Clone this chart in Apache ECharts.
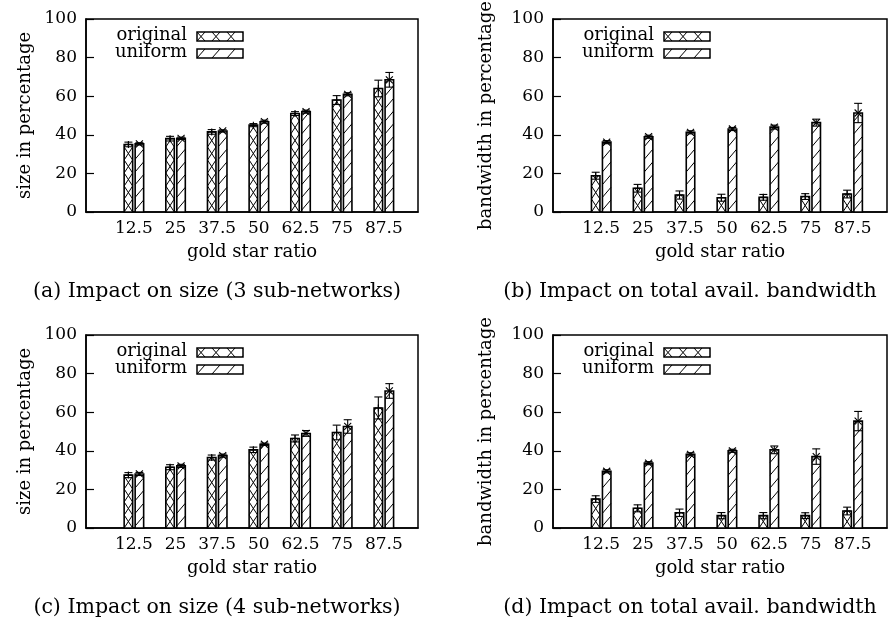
<!DOCTYPE html>
<html><head><meta charset="utf-8">
<script src="https://cdn.jsdelivr.net/npm/echarts@6/dist/echarts.min.js"></script>
<style>html,body{margin:0;padding:0;background:#fff}#c{width:888px;height:617px}</style>
</head><body><div id="c"></div>
<script>
// ---------- data ----------
const categories = ['12.5','25','37.5','50','62.5','75','87.5'];
const yTickValues = [0,20,40,60,80,100];
const seriesNames = ['original','uniform'];

// (a) size, 3 sub-networks
const size3Orig    = [35.0, 38.0, 41.5, 45.0, 51.0, 58.0, 64.0];
const size3OrigErr = [1.2, 1.2, 1.2, 0.8, 1.0, 2.3, 4.3];
const size3Unif    = [35.3, 38.2, 42.0, 46.8, 52.0, 61.0, 68.5];
const size3UnifErr = [0.6, 0.6, 0.6, 0.8, 0.8, 0.8, 3.8];
// (b) bandwidth, 3 sub-networks
const bw3Orig      = [18.8, 12.3, 8.8, 7.4, 7.6, 8.0, 9.3];
const bw3OrigErr   = [1.8, 2.0, 2.1, 1.8, 1.5, 1.5, 2.0];
const bw3Unif      = [36.2, 39.0, 41.3, 43.0, 44.0, 46.3, 51.3];
const bw3UnifErr   = [0.8, 0.8, 0.8, 0.8, 1.0, 1.8, 5.0];
// (c) size, 4 sub-networks
const size4Orig    = [27.4, 31.5, 36.5, 40.5, 46.4, 49.5, 62.2];
const size4OrigErr = [1.3, 1.3, 1.3, 1.4, 1.8, 3.8, 5.7];
const size4Unif    = [28.0, 32.2, 37.5, 43.4, 49.0, 52.6, 71.0];
const size4UnifErr = [0.8, 0.8, 0.8, 0.6, 1.5, 3.5, 3.8];
// (d) bandwidth, 4 sub-networks
const bw4Orig      = [15.0, 10.2, 7.9, 6.4, 6.4, 6.4, 8.8];
const bw4OrigErr   = [1.7, 1.8, 1.9, 1.6, 1.6, 1.5, 2.0];
const bw4Unif      = [29.4, 33.6, 38.2, 40.0, 40.5, 37.0, 55.4];
const bw4UnifErr   = [0.8, 0.8, 0.8, 0.8, 2.0, 4.0, 5.0];

const xTitle = 'gold star ratio';
const yTitleSize = 'size in percentage';
const yTitleBw = 'bandwidth in percentage';
const captions = ['(a) Impact on size (3 sub-networks)', '(b) Impact on total avail. bandwidth',
                  '(c) Impact on size (4 sub-networks)', '(d) Impact on total avail. bandwidth'];

// ---------- layout ----------
const FONT = '"DejaVu Serif", serif';
const panels = [
  {grid:{left:86, top:19, width:332, height:193}, yTitle:yTitleSize, yTitleX:25, capX:217, cap:captions[0], orig:size3Orig, origErr:size3OrigErr, unif:size3Unif, unifErr:size3UnifErr},
  {grid:{left:553, top:19, width:334, height:193}, yTitle:yTitleBw, yTitleX:486, capX:690, cap:captions[1], orig:bw3Orig, origErr:bw3OrigErr, unif:bw3Unif, unifErr:bw3UnifErr},
  {grid:{left:86, top:335, width:332, height:193}, yTitle:yTitleSize, yTitleX:25, capX:217, cap:captions[2], orig:size4Orig, origErr:size4OrigErr, unif:size4Unif, unifErr:size4UnifErr},
  {grid:{left:553, top:335, width:334, height:193}, yTitle:yTitleBw, yTitleX:486, capX:690, cap:captions[3], orig:bw4Orig, origErr:bw4OrigErr, unif:bw4Unif, unifErr:bw4UnifErr}
];

function clipSeg(x1,y1,x2,y2,yt,yb){
  if (y1 === y2) return (y1>=yt && y1<=yb) ? {x1,y1,x2,y2} : null;
  const ta=(yt-y1)/(y2-y1), tb=(yb-y1)/(y2-y1);
  const t0=Math.max(0,Math.min(ta,tb)), t1=Math.min(1,Math.max(ta,tb));
  if (t1<=t0) return null;
  return {x1:x1+(x2-x1)*t0, y1:y1+(y2-y1)*t0, x2:x1+(x2-x1)*t1, y2:y1+(y2-y1)*t1};
}
function barHatch(kind, L, R, yt, yb){
  const segs=[];
  if (kind==='orig'){
    const P=13;
    for(let k=-1;k<=(yb-yt)/P+1;k++){
      const a=clipSeg(L,yb-k*P,R,yb-k*P-P,yt,yb); if(a) segs.push(a);
      const b=clipSeg(L,yb-(k+1)*P,R,yb-k*P,yt,yb); if(b) segs.push(b);
    }
  } else {
    const P=12.7, rise=10;
    for(let k=-1;k<=(yb-yt)/P+1;k++){
      const a=clipSeg(L,yb-k*P-2,R,yb-k*P-2-rise,yt,yb); if(a) segs.push(a);
    }
  }
  return segs;
}
function lineEl(s, w){ return {type:'line', shape:s, style:{stroke:'#000', lineWidth:w||1}}; }

function makeRender(kind){
  return function(params, api){
    const x=api.value(0), v=api.value(1), e=api.value(2);
    const base=api.coord([x,0]), top=api.coord([x,v]);
    const cx=base[0]+(kind==='orig'?-5.5:5.5);
    const L=cx-4.25, R=cx+4.25, yb=base[1], yt=top[1];
    const ch=[];
    ch.push({type:'rect', shape:{x:L,y:yt,width:R-L,height:yb-yt}, style:{fill:'#fff', stroke:null}});
    barHatch(kind,L,R,yt,yb).forEach(s=>ch.push(lineEl(s,1)));
    ch.push({type:'rect', shape:{x:L,y:yt,width:R-L,height:yb-yt}, style:{fill:null, stroke:'#000', lineWidth:1.6}});
    const hi=api.coord([x,v+e])[1], lo=api.coord([x,v-e])[1];
    ch.push(lineEl({x1:cx,y1:hi,x2:cx,y2:lo},1.1));
    ch.push(lineEl({x1:cx-4,y1:hi,x2:cx+4,y2:hi},1.1));
    ch.push(lineEl({x1:cx-4,y1:lo,x2:cx+4,y2:lo},1.1));
    const m=3.5;
    if(kind==='orig'){
      ch.push(lineEl({x1:cx-m,y1:yt,x2:cx+m,y2:yt},1.1));
      ch.push(lineEl({x1:cx,y1:yt-m,x2:cx,y2:yt+m},1.1));
    } else {
      ch.push(lineEl({x1:cx-m,y1:yt-m,x2:cx+m,y2:yt+m},1.1));
      ch.push(lineEl({x1:cx-m,y1:yt+m,x2:cx+m,y2:yt-m},1.1));
    }
    return {type:'group', children:ch};
  };
}

function textEl(x,y,text,size,opts){
  const o=Object.assign({align:'center', rot:0},opts||{});
  return {type:'text', x:x, y:y, rotation:o.rot, silent:true,
    style:{text:text, font:size+'px '+FONT, fill:'#000', textAlign:o.align, textVerticalAlign:'middle', align:o.align, verticalAlign:'middle'}};
}
function legendBox(x,y,w,h,kind){
  const els=[];
  els.push({type:'rect', shape:{x,y,width:w,height:h}, style:{fill:'#fff', stroke:null}});
  for(let px=x; px<x+w; px+=15){
    const x2=Math.min(px+8,x+w);
    const f=(x2-px)/8;
    if(kind==='orig'){
      els.push(lineEl({x1:px,y1:y+h,x2:x2,y2:y+h-h*f},1));
      els.push(lineEl({x1:px,y1:y,x2:x2,y2:y+h*f},1));
    } else {
      els.push(lineEl({x1:px,y1:y+h,x2:x2,y2:y+h-h*f},1));
    }
  }
  els.push({type:'rect', shape:{x,y,width:w,height:h}, style:{fill:null, stroke:'#000', lineWidth:1.5}});
  return els;
}

const grids=[], xAxes=[], yAxes=[], series=[], graphics=[];
panels.forEach((p,i)=>{
  grids.push(Object.assign({show:true, borderColor:'#000', borderWidth:1.5, backgroundColor:'transparent'}, p.grid));
  xAxes.push({type:'value', gridIndex:i, min:-1.15, max:6.82,
    axisLine:{show:true, onZero:false, lineStyle:{color:'#000', width:1.5}}, axisTick:{show:false}, splitLine:{show:false},
    axisLabel:{customValues:[0,1,2,3,4,5,6], formatter:(v)=>categories[Math.round(v)], color:'#000', fontSize:17, fontFamily:FONT, margin:8}});
  yAxes.push({type:'value', gridIndex:i, min:yTickValues[0], max:yTickValues[yTickValues.length-1], interval:20,
    axisLine:{show:true, onZero:false, lineStyle:{color:'#000', width:1.5}}, axisTick:{show:true, inside:true, length:8, lineStyle:{color:'#000', width:1.2}},
    splitLine:{show:false}, axisLabel:{color:'#000', fontSize:17, fontFamily:FONT, margin:9}});
  series.push({type:'custom', xAxisIndex:i, yAxisIndex:i, name:seriesNames[0], renderItem:makeRender('orig'),
    encode:{x:0,y:1}, data:p.orig.map((v,j)=>[j,v,p.origErr[j]]), silent:true});
  series.push({type:'custom', xAxisIndex:i, yAxisIndex:i, name:seriesNames[1], renderItem:makeRender('unif'),
    encode:{x:0,y:1}, data:p.unif.map((v,j)=>[j,v,p.unifErr[j]]), silent:true});
  const g=p.grid;
  graphics.push(textEl(p.yTitleX, g.top+g.height/2, p.yTitle, 18, {rot:Math.PI/2}));
  graphics.push(textEl(g.left+g.width/2, g.top+g.height+40, xTitle, 18));
  graphics.push(textEl(p.capX, g.top+g.height+80, p.cap, 20.5));
  graphics.push(textEl(g.left+101, g.top+16, seriesNames[0], 18, {align:'right'}));
  graphics.push(textEl(g.left+101, g.top+33, seriesNames[1], 18, {align:'right'}));
  legendBox(g.left+111, g.top+13, 46, 9, 'orig').forEach(e=>graphics.push(e));
  legendBox(g.left+111, g.top+30, 46, 9, 'unif').forEach(e=>graphics.push(e));
});

const chart=echarts.init(document.getElementById('c'), null, {renderer:'canvas'});
chart.setOption({animation:false, backgroundColor:'#fff', grid:grids, xAxis:xAxes, yAxis:yAxes, series:series, graphic:graphics});
</script></body></html>
